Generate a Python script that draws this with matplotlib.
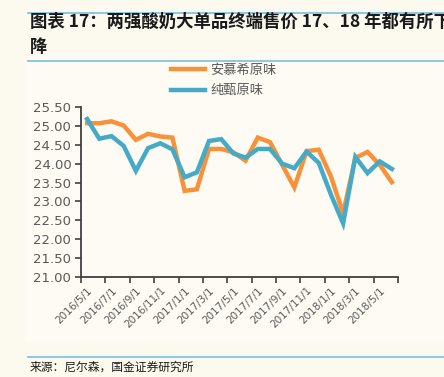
import matplotlib
matplotlib.use("Agg")
import matplotlib.pyplot as plt
from matplotlib.lines import Line2D
from matplotlib.patches import Rectangle
import numpy as np

plt.rcParams['font.family'] = ['Noto Sans CJK SC', 'DejaVu Sans']

months = ["2016/5/1", "2016/6/1", "2016/7/1", "2016/8/1", "2016/9/1", "2016/10/1",
          "2016/11/1", "2016/12/1", "2017/1/1", "2017/2/1", "2017/3/1", "2017/4/1",
          "2017/5/1", "2017/6/1", "2017/7/1", "2017/8/1", "2017/9/1", "2017/10/1",
          "2017/11/1", "2017/12/1", "2018/1/1", "2018/2/1", "2018/3/1", "2018/4/1",
          "2018/5/1", "2018/6/1"]
anmuxi = [25.07, 25.07, 25.12, 25.01, 24.63, 24.79, 24.72, 24.69, 23.28, 23.32,
          24.39, 24.39, 24.30, 24.08, 24.69, 24.57, 23.97, 23.37, 24.33, 24.37,
          23.66, 22.69, 24.15, 24.31, 23.97, 23.51]
chunzhen = [25.18, 24.66, 24.73, 24.47, 23.81, 24.41, 24.54, 24.38, 23.64, 23.77,
            24.60, 24.65, 24.27, 24.16, 24.39, 24.39, 24.00, 23.88, 24.32, 24.02,
            23.18, 22.42, 24.18, 23.75, 24.06, 23.86]
series_names = ["安慕希原味", "纯甄原味"]
yticks = [21.0, 21.5, 22.0, 22.5, 23.0, 23.5, 24.0, 24.5, 25.0, 25.5]

W, H = 444, 377
bg = "#FCF9EE"
inner = "#FDFBF3"
fig = plt.figure(figsize=(W / 100, H / 100), dpi=100, facecolor=bg)

# lighter chart-area rectangle
fig.patches.append(Rectangle((25 / W, 1 - 342 / H), 1 - 25 / W, (342 - 62) / H,
                             transform=fig.transFigure, facecolor=inner,
                             edgecolor="none", zorder=-5))

# separator lines
sep = "#7FC6E6"
for yy in (13, 61, 357):
    fig.add_artist(Line2D([28 / W, 1], [1 - yy / H, 1 - yy / H], color=sep,
                          lw=1.3, transform=fig.transFigure))

# title
fig.text(30 / W, 1 - 27 / H, "图表 17：两强酸奶大单品终端售价 17、18 年都有所下降",
         fontsize=12.5, fontweight='bold', style='italic', color="#1a1a1a",
         ha='left', va='baseline')
fig.text(30 / W, 1 - 52 / H, "降", fontsize=12.5, fontweight='bold',
         style='italic', color="#1a1a1a", ha='left', va='baseline')

# source
fig.text(30 / W, 1 - 367 / H, "来源：尼尔森，国金证券研究所", fontsize=8.5,
         color="#1a1a1a", ha='left', va='center')

left, right, top, bottom = 81, 398, 107, 277
ax = fig.add_axes([left / W, 1 - bottom / H, (right - left) / W, (bottom - top) / H])
ax.set_zorder(5)
ax.set_facecolor("none")

x = np.arange(len(months))
orange = "#F7923A"
blue = "#45AAC6"
ax.plot(x, anmuxi, color=orange, lw=3.2, solid_joinstyle='miter', label=series_names[0], zorder=2)
ax.plot(x, chunzhen, color=blue, lw=3.2, solid_joinstyle='miter', label=series_names[1], zorder=3)

ax.set_xlim(-0.5, len(months) - 0.5)
ax.set_ylim(21.0, 25.5)
ax.set_yticks(yticks)
ax.set_yticklabels([f"{v:.2f}" for v in yticks], family='DejaVu Sans')

ax.set_xticks(x[::2])
ax.set_xticklabels(months[::2], rotation=45, ha='right', rotation_mode='anchor',
                   family='DejaVu Sans', fontsize=7.5, color="#595959")
ax.set_xticks(np.arange(-0.5, len(months), 2), minor=True)
ax.tick_params(axis='x', which='major', length=0, pad=6)
ax.tick_params(axis='x', which='minor', length=4, width=1.2, color="#404040")
ax.tick_params(axis='y', length=4, width=1.2, color="#404040", labelsize=9.5,
               labelcolor="#595959", pad=3)

for s in ('top', 'right'):
    ax.spines[s].set_visible(False)
for s in ('left', 'bottom'):
    ax.spines[s].set_color("#404040")
    ax.spines[s].set_linewidth(1.3)

leg = ax.legend(loc='upper left', bbox_to_anchor=(171 / W, 1 - 64 / H),
                bbox_transform=fig.transFigure, frameon=False, fontsize=9.5,
                handlelength=2.6, handletextpad=0.4, labelspacing=0.55,
                borderpad=0, borderaxespad=0)
for t in leg.get_texts():
    t.set_color("#595959")

fig.savefig("out.png", dpi=100, facecolor=bg)
